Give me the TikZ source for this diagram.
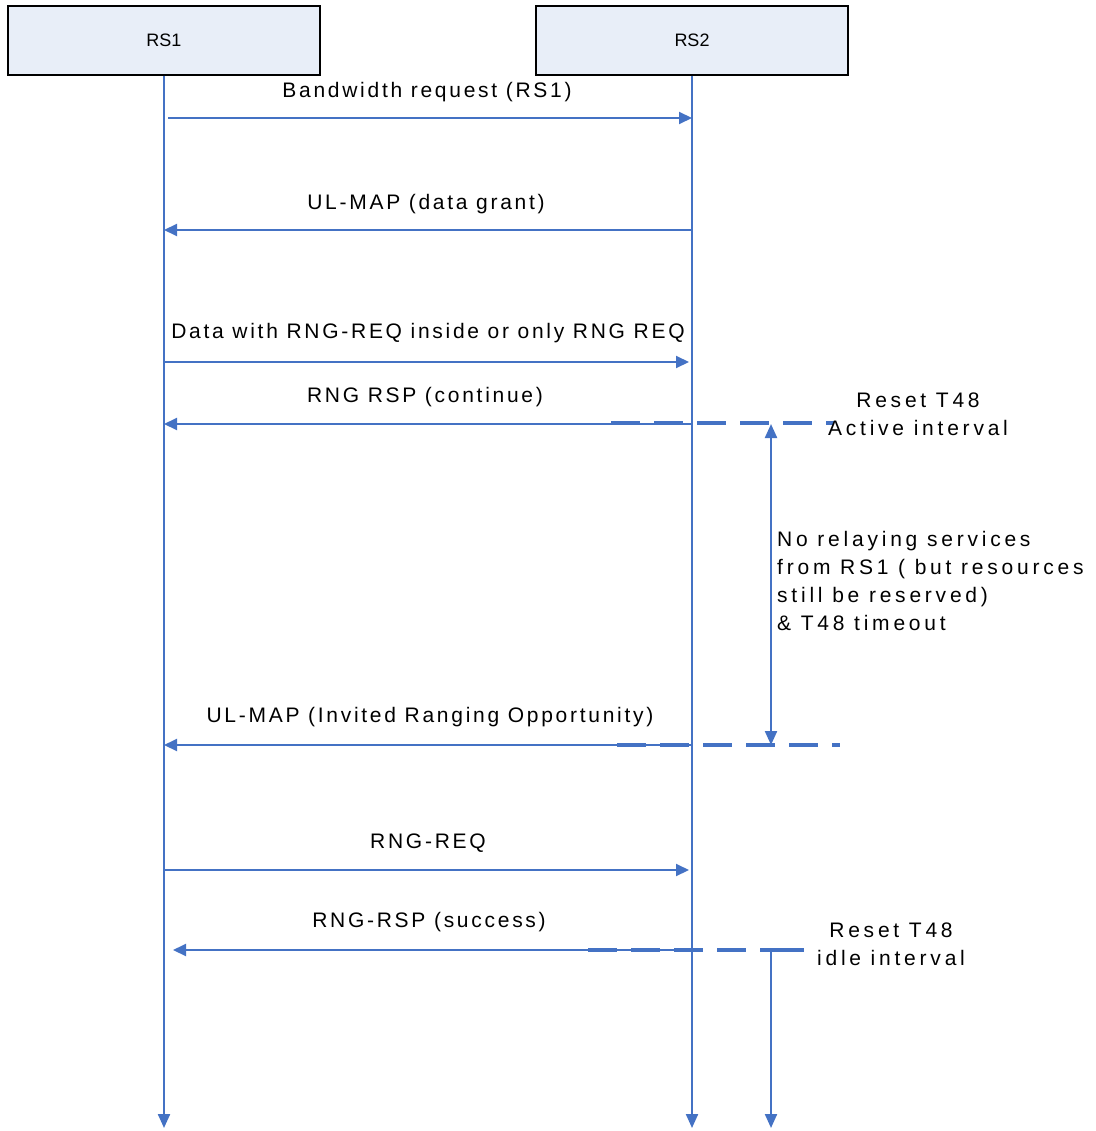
\documentclass[tikz,border=0pt]{standalone}
\usepackage{fontspec}
\setmainfont{Liberation Sans}
\newfontfamily\spacedfont[LetterSpace=13]{Liberation Sans}
\newfontfamily\widefont[LetterSpace=18]{Liberation Sans}
\usetikzlibrary{arrows.meta}
\definecolor{lblue}{HTML}{4472C4}
\definecolor{boxfill}{HTML}{E8EEF8}
\begin{document}
\begin{tikzpicture}[x=1pt,y=-1pt,
  actor/.style={draw=black,line width=1.4pt,fill=boxfill,minimum width=312pt,minimum height=69pt,inner sep=0pt,font=\fontsize{18}{22}\selectfont},
  life/.style={draw=lblue,line width=2.2pt,-{Triangle[length=14pt,width=12pt]}},
  msg/.style={draw=lblue,line width=2pt,-{Triangle[length=13pt,width=12pt]}},
  dsh/.style={draw=lblue,line width=3.6pt,dash pattern=on 29pt off 14pt},
  lbl/.style={font=\spacedfont\fontsize{21}{25}\selectfont,inner sep=0pt},
  note/.style={font=\widefont\fontsize{21}{28}\selectfont,inner sep=0pt}]
\useasboundingbox (0,0) rectangle (1095,1131);
\node[actor] (rs1) at (164,40.5) {RS1};
\node[actor] (rs2) at (692,40.5) {RS2};
% lifelines
\coordinate (e1) at (164,1128);
\coordinate (e2) at (692,1128);
\draw[life] (rs1.south) -- (e1);
\draw[life] (rs2.south) -- (e2);
% message coordinates
\coordinate (a1) at (168,118); \coordinate (b1) at (692,118);
\coordinate (a2) at (692,230); \coordinate (b2) at (164,230);
\coordinate (a3) at (164,362); \coordinate (b3) at (689,362);
\coordinate (a4) at (692,424); \coordinate (b4) at (164,424);
\coordinate (a5) at (692,745); \coordinate (b5) at (164,745);
\coordinate (a6) at (164,870); \coordinate (b6) at (689,870);
\coordinate (a7) at (692,950); \coordinate (b7) at (173,950);
\draw[msg] (a1) -- (b1);
\draw[msg] (a2) -- (b2);
\draw[msg] (a3) -- (b3);
\draw[msg] (a4) -- (b4);
\draw[msg] (a5) -- (b5);
\draw[msg] (a6) -- (b6);
\draw[msg] (a7) -- (b7);
% labels
\node[lbl] (l1) at (427,92) {Bandwidth request (RS1)};
\node[lbl] (l2) at (426,204) {UL-MAP (data grant)};
\node[lbl] (l3) at (428,333) {Data with RNG-REQ inside or only RNG REQ};
\node[lbl] (l4) at (425,397) {RNG RSP (continue)};
\node[lbl] (l5) at (430,717) {UL-MAP (Invited Ranging Opportunity)};
\node[lbl] (l6) at (428,843) {RNG-REQ};
\node[lbl] (l7) at (429,922) {RNG-RSP (success)};
% dashed timer lines
\coordinate (d1s) at (611,423); \coordinate (d1e) at (834,423);
\coordinate (d2s) at (617,745); \coordinate (d2e) at (840,745);
\coordinate (d3s) at (588,950); \coordinate (d3e) at (771,950);
\draw[dsh] (d1s) -- (d1e);
\draw[dsh] (d2s) -- (d2e);
\draw[dsh] (d3s) -- (d3e);
% interval arrow
\coordinate (i1) at (771,424); \coordinate (i2) at (771,745);
\draw[draw=lblue,line width=2.2pt,{Triangle[length=14pt,width=12pt]}-{Triangle[length=14pt,width=12pt]}] (i1) -- (i2);
% idle interval
\coordinate (c1) at (804,950); \coordinate (c2) at (771,950); \coordinate (c3) at (771,1128);
\draw[draw=lblue,line width=2.2pt,-{Triangle[length=14pt,width=12pt]}] (c1) -- (c2) -- (c3);
\draw[draw=lblue,line width=3.6pt] (c2) -- (c1);
% notes
\node[note,align=center] (n1) at (918,414) {Reset T48\\Active interval};
\node[note,align=left,anchor=west] (n2) at (777,581) {No relaying services\\from RS1 ( but resources\\still be reserved)\\\& T48 timeout};
\node[note,align=center] (n3) at (891,944) {Reset T48\\idle interval};
\end{tikzpicture}
\end{document}
